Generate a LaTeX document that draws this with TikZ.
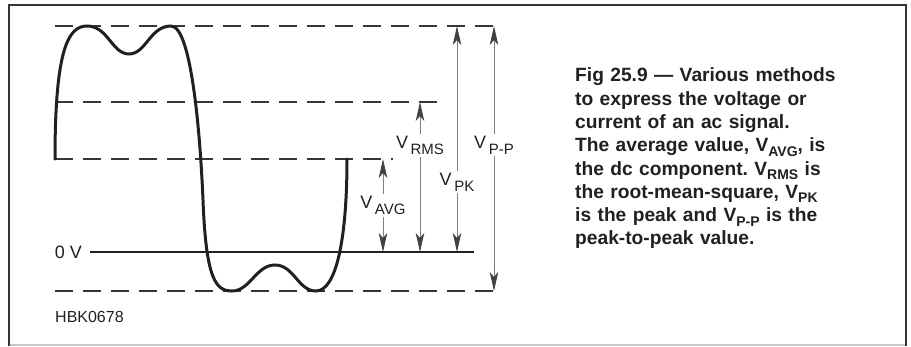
\documentclass[tikz,border=0pt]{standalone}
\usepackage{fontspec}
\setmainfont{Liberation Sans}
\usetikzlibrary{arrows.meta}
\definecolor{inkc}{RGB}{35,31,32}
\definecolor{dimc}{RGB}{125,125,125}
\definecolor{guidec}{RGB}{55,55,55}
\definecolor{edgec}{RGB}{200,200,200}
% subscripts: spaced ones at the arrows, tight ones in the caption
\newcommand{\dimsub}[1]{\hspace{2.5pt}\raisebox{-6pt}{\fontsize{15}{15}\selectfont #1}}
\newcommand{\capsub}[1]{\raisebox{-4.5pt}{\fontsize{14}{14}\selectfont #1}}
\tikzset{
  dimtip/.tip={Stealth[length=19pt, width=8.5pt, inset=5pt, color=inkc!85]},
}

\begin{document}
\frenchspacing
\begin{tikzpicture}[x=1pt, y=-1pt,
  guide/.style={guidec, line width=1.4pt, dash pattern=on 18pt off 10pt},
  wave/.style={inkc, line width=3pt, line cap=round},
  dim/.style={dimc, line width=0.9pt, {dimtip}-{dimtip}},
  dimlabel/.style={fill=white, inner sep=2pt, text=inkc, font=\fontsize{18}{18}\selectfont}]
  \useasboundingbox (0,0) rectangle (911,346);
  % frame
  \draw[edgec, line width=1.2pt] (9,345) -- (906,345);
  \draw[inkc!90, line width=2.5pt] (9,346) -- (9,5) -- (906,5) -- (906,346);

  % levels
  \coordinate (pk) at (55,26);
  \coordinate (rms) at (55,102);
  \coordinate (avg) at (55,159);
  \coordinate (neg) at (55,291);
  \draw[guide] (pk) -- (500,26);
  \draw[guide] (rms) -- (442,102);
  \draw[guide] (avg) -- (393,159);
  \draw[guide] (neg) -- (500,291);

  % the signal
  \draw[wave] (avg) .. controls (55,50) and (68,26) .. (87,26)
    .. controls (108,26) and (112,54) .. (129,54)
    .. controls (146,54) and (150,26) .. (171,26)
    .. controls (192,26) and (200.5,140) .. (203,200)
    .. controls (206,280) and (216,291) .. (232,291)
    .. controls (250,291) and (256,265) .. (275,265)
    .. controls (294,265) and (298,291) .. (316,291)
    .. controls (336,291) and (347,240) .. (347,159);

  % zero line
  \node[anchor=east, inner xsep=8pt, inner ysep=0pt, text=inkc,
    font=\fontsize{18}{18}\selectfont] (zero) at (90,252) {0 V};
  \coordinate (zend) at (474,252);
  \draw[inkc, line width=2.5pt] (zero.east) -- (zend);

  % measures
  \coordinate (avgtop) at (383,159);  \coordinate (avgbot) at (383,252);
  \coordinate (rmstop) at (420,102);  \coordinate (rmsbot) at (420,252);
  \coordinate (pktop) at (457,26);    \coordinate (pkbot) at (457,252);
  \coordinate (pptop) at (494,26);    \coordinate (ppbot) at (494,291);
  \draw[dim] (avgtop) -- node[dimlabel, pos=0.5] (lavg) {V\dimsub{AVG}} (avgbot);
  \draw[dim] (rmstop) -- node[dimlabel, pos=0.29] (lrms) {V\dimsub{RMS}} (rmsbot);
  \draw[dim] (pktop) -- node[dimlabel, pos=0.69] (lpk) {V\dimsub{PK}} (pkbot);
  \draw[dim] (pptop) -- node[dimlabel, pos=0.45] (lpp) {V\dimsub{P-P}} (ppbot);

  \node[anchor=base west, inner sep=0pt, text=inkc,
    font=\fontsize{16}{16}\selectfont] (code) at (55,322) {HBK0678};

  % caption
  \node[anchor=north west, inner sep=0pt, text width=330pt, align=left, text=inkc,
    font=\fontsize{19.2}{23.3}\selectfont\bfseries] (caption) at (575,67.7)
    {Fig 25.9 --- Various methods\\
     to express the voltage or\\
     current of an ac signal.\\
     The average value, V\capsub{AVG}, is\\
     the dc component. V\capsub{RMS} is\\
     the root-mean-square, V\capsub{PK}\\
     is the peak and V\capsub{P-P} is the\\
     peak-to-peak value.};
\end{tikzpicture}
\end{document}
